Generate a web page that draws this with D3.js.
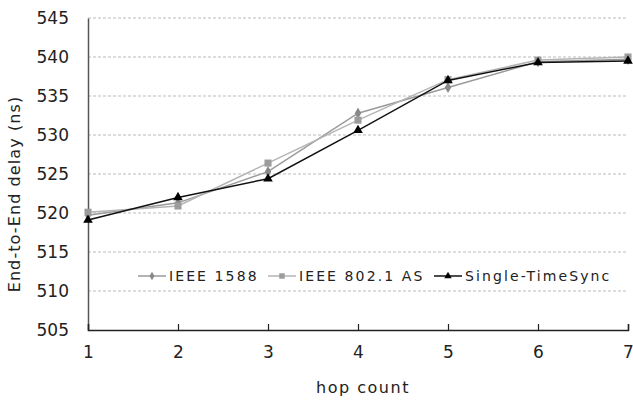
<!DOCTYPE html>
<html><head><meta charset="utf-8">
<script src="https://cdn.jsdelivr.net/npm/d3@7"></script>
<style>body{margin:0;background:#fff}svg{display:block}text{font-family:"DejaVu Sans",sans-serif;fill:#222}</style>
</head><body><div id="c"></div>
<script>
const hops = [1,2,3,4,5,6,7];
const ieee1588 = [519.7,521.3,525.3,532.8,536.1,539.4,539.7];
const ieee8021as = [520.1,520.9,526.4,531.9,537.1,539.6,540.0];
const singleTS = [519.1,522.0,524.4,530.6,537.0,539.3,539.5];
const yTicks = [505,510,515,520,525,530,535,540,545];
const seriesNames = ["IEEE 1588","IEEE 802.1 AS","Single-TimeSync"];

const W=633,H=403;
const svg=d3.select("#c").append("svg").attr("width",W).attr("height",H);
const x=d3.scaleLinear().domain([1,7]).range([88,628]);
const y=d3.scaleLinear().domain([505,545]).range([330,18]);

// grid
svg.append("g").selectAll("line").data(yTicks.slice(1)).join("line")
 .attr("x1",88).attr("x2",628).attr("y1",d=>y(d)).attr("y2",d=>y(d))
 .attr("stroke","#bbb").attr("stroke-dasharray","3,2").attr("stroke-width",1);

// axes
const ya=svg.append("g").attr("transform","translate(88,0)")
 .call(d3.axisLeft(y).tickValues(yTicks).tickSize(0).tickPadding(19));
ya.select(".domain").attr("stroke","#555").attr("stroke-width",1.5);
ya.selectAll("text").style("font-size","17px").attr("fill","#222");
const xa=svg.append("g").attr("transform","translate(0,330)")
 .call(d3.axisBottom(x).tickValues(hops).tickSize(-6).tickPadding(16).tickFormat(d3.format("d")));
xa.select(".domain").attr("stroke","#222").attr("stroke-width",1.5);
xa.selectAll(".tick line").attr("stroke","#222").attr("stroke-width",1.2);
xa.selectAll("text").style("font-size","17px").attr("fill","#222");

svg.append("text").attr("x",363).attr("y",393).attr("text-anchor","middle").style("font-size","16px").style("letter-spacing","1.5px").text("hop count");
svg.append("text").attr("transform","translate(20,194) rotate(-90)").attr("text-anchor","middle").style("font-size","16px").style("letter-spacing","1.1px").text("End-to-End delay (ns)");

const line=d3.line().x((d,i)=>x(hops[i])).y(d=>y(d));
const series=[
 {name:seriesNames[0],vals:ieee1588,line:"#9a9a9a",mark:"#888",sym:d3.symbolDiamond,size:36},
 {name:seriesNames[1],vals:ieee8021as,line:"#b4b4b4",mark:"#9c9c9c",sym:d3.symbolSquare,size:50},
 {name:seriesNames[2],vals:singleTS,line:"#111",mark:"#000",sym:d3.symbolTriangle,size:40}
];
series.forEach(s=>{
 svg.append("path").datum(s.vals).attr("d",line).attr("fill","none").attr("stroke",s.line).attr("stroke-width",1.5);
 svg.append("g").selectAll("path").data(s.vals).join("path")
  .attr("transform",(d,i)=>`translate(${x(hops[i])},${y(d)})`)
  .attr("d",d3.symbol().type(s.sym).size(s.size)).attr("fill",s.mark);
});

// legend
const lg=svg.append("g");
lg.append("rect").attr("x",134).attr("y",264).attr("width",484).attr("height",24).attr("fill","#fff");
const lx=[138,268,434];
series.forEach((s,i)=>{
 const g=lg.append("g").attr("transform",`translate(${lx[i]},276)`);
 g.append("line").attr("x1",0).attr("x2",28).attr("stroke",s.line).attr("stroke-width",1.5);
 g.append("path").attr("transform","translate(14,0)").attr("d",d3.symbol().type(s.sym).size(s.size*0.6)).attr("fill",s.mark);
 g.append("text").attr("x",31).attr("y",5).style("font-size","14px").style("letter-spacing","2.1px").text(s.name);
});
</script></body></html>
